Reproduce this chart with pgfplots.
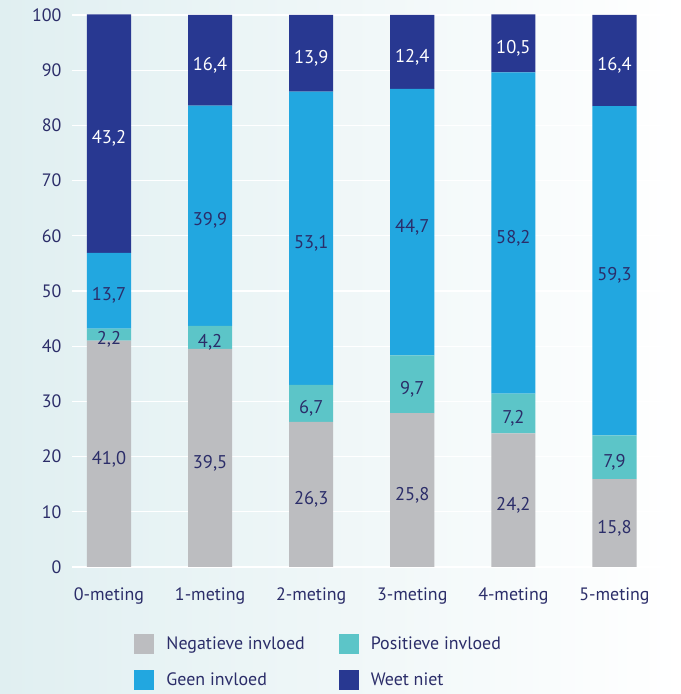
\documentclass[border=0pt]{standalone}
\usepackage{pgfplots}
\pgfplotsset{compat=1.18}
\usepackage{pgfplotstable}
\usepackage{fontspec}
\setmainfont{PT Sans}
\definecolor{grijs}{RGB}{188,189,192}
\definecolor{turq}{RGB}{92,197,200}
\definecolor{blauw}{RGB}{34,167,224}
\definecolor{navy}{RGB}{40,56,145}
\definecolor{tekst}{RGB}{43,45,105}
\definecolor{bgl}{RGB}{224,239,241}

% drawn heights (shares scaled to 100) and printed labels
\pgfplotstableread{
x neg   pos   geen  weet  lneg lpos lgeen lweet
0 41.0  2.2   13.7  43.2  41,0 2,2  13,7  43,2
1 39.5  4.2   39.9  16.4  39,5 4,2  39,9  16,4
2 26.3  6.7   53.1  13.9  26,3 6,7  53,1  13,9
3 27.86 10.48 48.27 13.39 25,8 9,7  44,7  12,4
4 24.2  7.2   58.2  10.5  24,2 7,2  58,2  10,5
5 15.9  7.95  59.66 16.5  15,8 7,9  59,3  16,4
}\meting

\pgfplotsset{
  basis/.style={
    scale only axis, width=593bp, height=552bp,
    at={(72bp,127bp)}, anchor=south west,
    xmin=-0.366, xmax=5.5, ymin=0, ymax=100,
  },
}

\begin{document}
\begin{tikzpicture}
\shade[left color=bgl, right color=white, shading angle=90] (0,0) rectangle (681bp,694bp);
\begin{axis}[
  basis,
  ybar stacked, bar width=0.436,
  axis lines=none,
  ytick={0,10,...,100},
  ymajorgrids, grid style={white, line width=1.2pt},
  xtick=data,
  xticklabels={0-meting,1-meting,2-meting,3-meting,4-meting,5-meting},
  tick style={draw=none},
  hide x axis=false, hide y axis=false,
  x axis line style={draw=none}, y axis line style={draw=none},
  tick label style={font=\fontsize{18}{20}\selectfont, text=tekst},
  yticklabel style={xshift=-7bp},
  xticklabel style={yshift=-17bp},
  /pgf/number format/assume math mode=true,
  legend columns=2,
  legend cell align=left,
  legend style={at={(0.105,-0.121)}, anchor=north west, draw=none, fill=none,
    inner sep=0pt, font=\fontsize{18}{20}\selectfont, text=tekst,
    /tikz/every odd column/.append style={column sep=10bp},
    /tikz/every even column/.append style={column sep=32bp},
    row sep=16bp},
  legend image code/.code={\fill[#1] (0bp,-10bp) rectangle (20bp,10bp);},
]
\addplot[fill=grijs, draw=none] table[x=x, y=neg] {\meting};
\addplot[fill=turq, draw=none] table[x=x, y=pos] {\meting};
\addplot[fill=blauw, draw=none] table[x=x, y=geen] {\meting};
\addplot[fill=navy, draw=none] table[x=x, y=weet] {\meting};
\legend{Negatieve invloed,Positieve invloed,Geen invloed,Weet niet}
\end{axis}
% labels in the middle of each segment
\begin{axis}[
  basis, axis lines=none,
  nodes near coords, point meta=explicit symbolic,
  every node near coord/.append style={anchor=center, yshift=-5bp,
    font=\fontsize{18.5}{20}\selectfont},
]
\addplot[draw=none, mark=none, nodes near coords style={text=tekst}]
  table[x=x, y expr=\thisrow{neg}/2, meta=lneg] {\meting};
\addplot[draw=none, mark=none, nodes near coords style={text=tekst}]
  table[x=x, y expr=\thisrow{neg}+\thisrow{pos}/2, meta=lpos] {\meting};
\addplot[draw=none, mark=none, nodes near coords style={text=tekst}]
  table[x=x, y expr=\thisrow{neg}+\thisrow{pos}+\thisrow{geen}/2, meta=lgeen] {\meting};
\addplot[draw=none, mark=none, nodes near coords style={text=white}]
  table[x=x, y expr=\thisrow{neg}+\thisrow{pos}+\thisrow{geen}+\thisrow{weet}/2, meta=lweet] {\meting};
\end{axis}
\path (0,0) rectangle (681bp,694bp);
\end{tikzpicture}
\end{document}
